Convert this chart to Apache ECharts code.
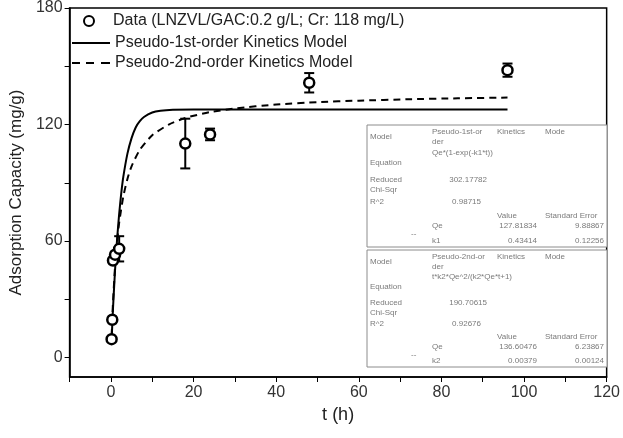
<!DOCTYPE html>
<html><head><meta charset="utf-8">
<script src="https://cdn.jsdelivr.net/npm/echarts@6/dist/echarts.min.js"></script>
<style>html,body{margin:0;padding:0;background:#fff}#c{width:623px;height:438px}</style>
</head><body><div id="c"></div>
<script>
// ---- data ----
const dataT   = [0.17, 0.33, 0.5, 1, 2, 18, 24, 48, 96];
const dataQ   = [9.5, 19.5, 50, 53, 56, 110.2, 114.9, 141.5, 148];
const dataErr = [0, 0, 0, 0, 6.5, 12.8, 3, 5, 3.4];

const model1T = [0.17, 0.5, 1, 1.5, 2, 2.5, 3, 4, 5, 6, 7, 8, 10, 12, 15, 20, 30, 50, 96];
const model1Q = [9, 25, 45, 61, 74, 84.5, 93, 105, 113, 118.5, 121.7, 123.9, 126.2, 127.1, 127.6, 127.8, 127.8, 127.8, 127.8];

const model2T = [0.17, 0.5, 1, 1.5, 2, 3, 4, 5, 7, 10, 14, 18, 24, 30, 40, 50, 60, 72, 84, 96];
const model2Q = [11, 28, 46.6, 59.7, 69.5, 83, 92, 98.5, 107, 114.5, 120, 123.4, 126.4, 128.3, 130.3, 131.5, 132.3, 133, 133.5, 133.9];

const xTicks = [-10, 0, 10, 20, 30, 40, 50, 60, 70, 80, 90, 100, 110, 120];
const xLabels = [0, 20, 40, 60, 80, 100, 120];
const yTicks = [0, 30, 60, 90, 120, 150, 180];
const yLabels = [0, 60, 120, 180];

const seriesNames = ['Data (LNZVL/GAC:0.2 g/L; Cr: 118 mg/L)', 'Pseudo-1st-order Kinetics Model', 'Pseudo-2nd-order Kinetics Model'];

// fit report tables (text)
const table1Title = ['Pseudo-1st-or', 'der'];
const table1Eq = 'Qe*(1-exp(-k1*t))';
const table1Chi = '302.17782';
const table1R2 = '0.98715';
const table1Params = [['Qe', '127.81834', '9.88867'], ['k1', '0.43414', '0.12256']];

const table2Title = ['Pseudo-2nd-or', 'der'];
const table2Eq = 't*k2*Qe^2/(k2*Qe*t+1)';
const table2Chi = '190.70615';
const table2R2 = '0.92676';
const table2Params = [['Qe', '136.60476', '6.23867'], ['k2', '0.00379', '0.00124']];

// ---- build ----
const FONT = '"Liberation Sans", Arial, sans-serif';
const pts = dataT.map((t, i) => [t, dataQ[i]]);
const errs = dataT.map((t, i) => [t, dataQ[i] - dataErr[i], dataQ[i] + dataErr[i]]).filter((d, i) => dataErr[i] > 0);

function tableGraphic(top, height, title, eq, chi, r2, params) {
  const s = height / 122;
  const Y = o => top + o * s;
  const fill = '#7a7a7a';
  const t = (x, y, text, align) => ({
    type: 'text', x: x, y: y, z: 101,
    style: { text: text, fontSize: 8, fontFamily: FONT, fill: fill, align: align || 'left', verticalAlign: 'middle' }
  });
  const cA = 370, cB = 432, cC = 497, cD = 545;
  return [
    { type: 'rect', z: 100, shape: { x: 367, y: top, width: 240, height: height },
      style: { fill: '#fff', stroke: '#8c8c8c', lineWidth: 1 } },
    t(cA, Y(12), 'Model'),
    t(cB, Y(7), title[0]), t(cB, Y(17), title[1]),
    t(cC, Y(7), 'Kinetics'), t(cD, Y(7), 'Mode'),
    t(cA, Y(38), 'Equation'), t(cB, Y(28), eq),
    t(cA, Y(55), 'Reduced'), t(cA, Y(65), 'Chi-Sqr'), t(487, Y(55), chi, 'right'),
    t(cA, Y(77), 'R^2'), t(481, Y(77), r2, 'right'),
    t(cC, Y(91), 'Value'), t(cD, Y(91), 'Standard Error'),
    t(cB, Y(101), params[0][0]), t(537, Y(101), params[0][1], 'right'), t(604, Y(101), params[0][2], 'right'),
    t(411, Y(109), '--'),
    t(cB, Y(116), params[1][0]), t(537, Y(116), params[1][1], 'right'), t(604, Y(116), params[1][2], 'right')
  ];
}

const chart = echarts.init(document.getElementById('c'), null, { renderer: 'canvas' });
const axisText = { fontSize: 16, fontFamily: FONT, color: '#333' };
const legendText = { fontSize: 16, fontFamily: FONT, color: '#222' };
const solidIcon = 'path://M0,0h38v2h-38z';
const dashIcon = 'path://M0,0h8v2h-8z M14,0h8v2h-8z M29,0h9v2h-9z';

chart.setOption({
  animation: false,
  backgroundColor: '#fff',
  grid: { left: 68, right: 12, top: 8, bottom: 61, show: true, borderColor: '#000', borderWidth: 1.5, backgroundColor: 'transparent' },
  legend: [
    { data: [seriesNames[0]], left: 83, top: 13, padding: 0, itemWidth: 38, itemHeight: 10,
      textStyle: legendText },
    { data: [{ name: seriesNames[1], icon: solidIcon }, { name: seriesNames[2], icon: dashIcon }],
      orient: 'vertical', left: 72, top: 35, padding: 0,
      itemWidth: 38, itemHeight: 2, itemGap: 4, textStyle: legendText }
  ],
  xAxis: {
    type: 'value', min: -10, max: 120,
    name: 't (h)', nameLocation: 'middle', nameGap: 22,
    nameTextStyle: { fontSize: 18, fontFamily: FONT, color: '#222' },
    axisLine: { show: true, onZero: false, lineStyle: { color: '#000', width: 1.5 } },
    axisTick: { show: true, length: 5, customValues: xTicks, lineStyle: { color: '#000', width: 1 } },
    axisLabel: Object.assign({ customValues: xLabels, margin: 8 }, axisText),
    splitLine: { show: false }
  },
  yAxis: {
    type: 'value', min: -10, max: 180,
    name: 'Adsorption Capacity (mg/g)', nameLocation: 'middle', nameGap: 40,
    nameTextStyle: { fontSize: 17, fontFamily: FONT, color: '#222' },
    axisLine: { show: true, onZero: false, lineStyle: { color: '#000', width: 1.5 } },
    axisTick: { show: true, length: 5, customValues: yTicks, lineStyle: { color: '#000', width: 1 } },
    axisLabel: Object.assign({ customValues: yLabels, margin: 7 }, axisText),
    splitLine: { show: false }
  },
  series: [
    { name: seriesNames[1], type: 'line', data: model1T.map((t, i) => [t, model1Q[i]]),
      symbol: 'none', smooth: 0.2, z: 2,
      lineStyle: { color: '#000', width: 2, type: 'solid' }, itemStyle: { color: '#000' } },
    { name: seriesNames[2], type: 'line', data: model2T.map((t, i) => [t, model2Q[i]]),
      symbol: 'none', smooth: 0.2, z: 2,
      lineStyle: { color: '#000', width: 2, type: [7, 5] }, itemStyle: { color: '#000' } },
    { name: 'err', type: 'custom', data: errs, z: 3,
      renderItem: function (params, api) {
        const lo = api.coord([api.value(0), api.value(1)]);
        const hi = api.coord([api.value(0), api.value(2)]);
        const w = 5;
        const st = { stroke: '#000', lineWidth: 2 };
        return { type: 'group', children: [
          { type: 'line', shape: { x1: lo[0], y1: lo[1], x2: hi[0], y2: hi[1] }, style: st },
          { type: 'line', shape: { x1: lo[0] - w, y1: lo[1], x2: lo[0] + w, y2: lo[1] }, style: st },
          { type: 'line', shape: { x1: hi[0] - w, y1: hi[1], x2: hi[0] + w, y2: hi[1] }, style: st }
        ]};
      } },
    { name: seriesNames[0], type: 'scatter', data: pts, symbol: 'circle', symbolSize: 10, z: 5,
      itemStyle: { color: '#fff', borderColor: '#000', borderWidth: 2.5, opacity: 1 } }
  ],
  graphic: [].concat(
    tableGraphic(125, 122, table1Title, table1Eq, table1Chi, table1R2, table1Params),
    tableGraphic(250, 117, table2Title, table2Eq, table2Chi, table2R2, table2Params)
  )
});
</script>
</body></html>
